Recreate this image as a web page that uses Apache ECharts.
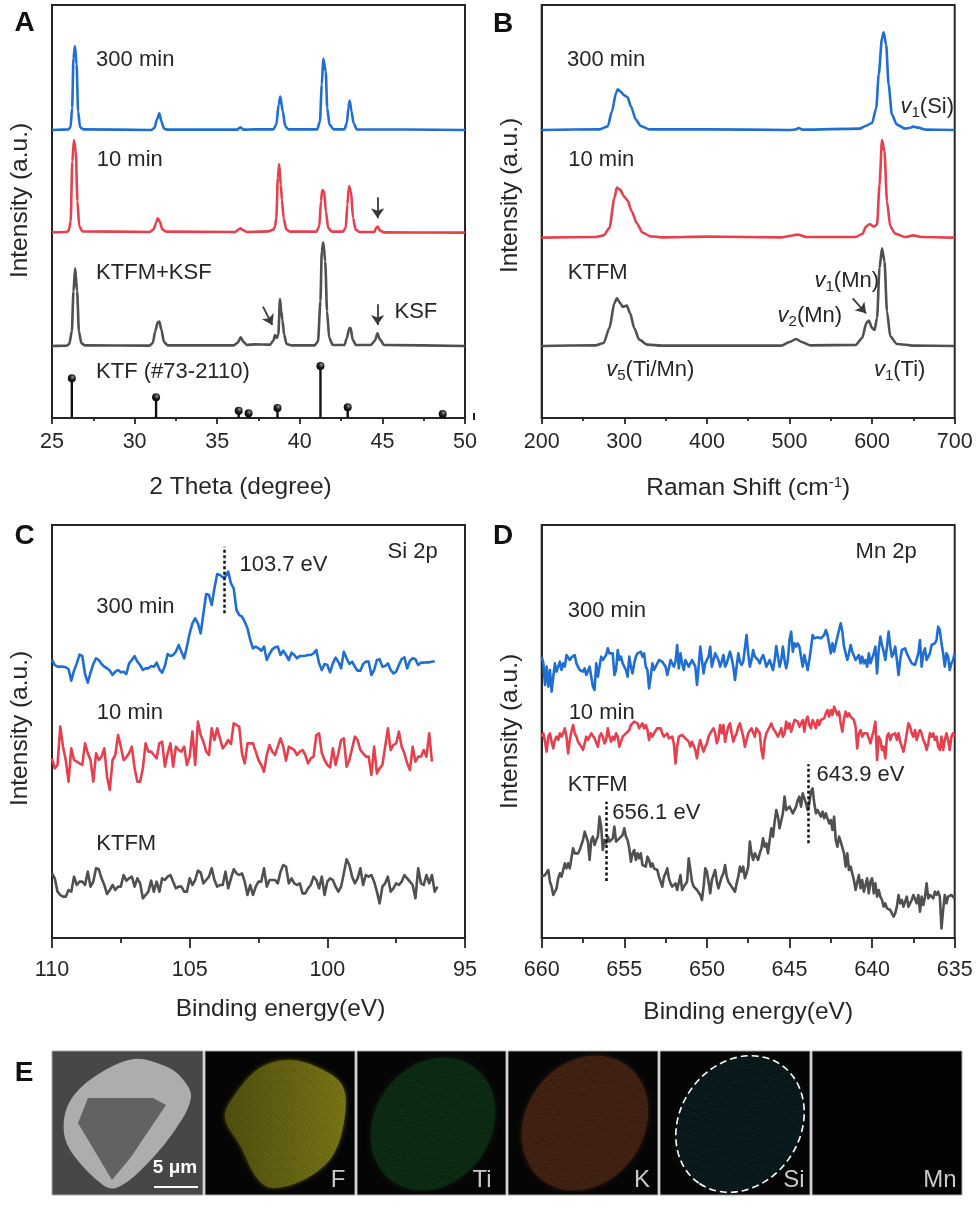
<!DOCTYPE html>
<html><head><meta charset="utf-8">
<style>html,body{margin:0;padding:0;background:#fff}#c{width:979px;height:1208px;filter:blur(0.4px)}</style>
<script src="https://cdn.jsdelivr.net/npm/echarts@6/dist/echarts.min.js"></script>
</head><body><div id="c"></div>
<script>
const xrd300 = [[25,864],[26,866],[26.12,872],[26.22,930],[26.3,1080],[26.39,1116],[26.49,1060],[26.58,920],[26.7,872],[26.9,866],[31,864],[31.2,870],[31.35,895],[31.5,914],[31.62,890],[31.78,868],[32,865],[36.2,865],[36.4,872],[36.6,865],[37.3,866],[38.4,866],[38.58,880],[38.72,940],[38.82,964],[38.97,920],[39.12,875],[39.3,866],[41.05,866],[41.22,890],[41.33,1000],[41.42,1078],[41.57,1040],[41.66,930],[41.8,880],[42.05,866],[42.7,866],[42.85,885],[42.94,930],[43.02,952],[43.13,920],[43.25,885],[43.45,866],[50,864]];
const xrd10 = [[25,557],[25.9,558],[26.02,563],[26.13,590],[26.23,770],[26.33,834],[26.44,800],[26.54,650],[26.65,575],[26.85,560],[30.9,558],[31.15,566],[31.3,585],[31.4,599],[31.52,590],[31.68,566],[31.9,559],[36.1,558],[36.3,566],[36.4,569],[36.55,564],[36.8,558],[38.1,560],[38.4,565],[38.5,575],[38.58,600],[38.67,720],[38.75,762],[38.85,700],[38.92,654],[39.02,600],[39.18,566],[39.4,559],[41,559],[41.18,575],[41.28,650],[41.36,684],[41.47,680],[41.58,620],[41.72,570],[41.95,559],[42.6,559],[42.78,570],[42.88,640],[42.98,696],[43.1,680],[43.22,600],[43.38,565],[43.6,558],[44.5,558],[44.65,572],[44.72,574],[44.85,562],[45.1,557],[50,556]];
const xrdKsf = [[25,216],[25.9,217],[26.05,222],[26.2,260],[26.3,380],[26.4,449],[26.52,380],[26.63,260],[26.78,224],[27,218],[30.9,217],[31.1,225],[31.25,260],[31.4,287],[31.5,289],[31.62,265],[31.78,228],[32,218],[36,218],[36.25,226],[36.42,242],[36.6,228],[36.8,219],[37.3,221],[38.2,220],[38.4,232],[38.5,249],[38.6,240],[38.7,250],[38.8,357],[38.88,320],[38.95,294],[39.05,250],[39.2,222],[39.5,218],[40.9,218],[41.1,230],[41.25,350],[41.33,500],[41.42,527],[41.54,470],[41.65,320],[41.78,240],[42,219],[42.7,219],[42.85,240],[43,270],[43.08,270],[43.2,235],[43.4,219],[44.3,219],[44.55,232],[44.7,254],[44.85,236],[45.1,219],[50,216]];
const ktfSticks = [[26.2,119],[31.3,62],[36.3,22],[36.9,14],[38.65,30],[41.25,156],[42.9,32],[48.65,12]];

const raman300 = [[200,864],[270,866],[280,875],[285,920],[290,975],[292,986],[296,978],[300,968],[304,962],[308,935],[314,895],[320,876],[330,866],[400,866],[500,864],[508,866],[511,870],[516,865],[585,868],[592,876],[600,885],[605,930],[608,1030],[612,1140],[614,1157],[617,1120],[620,1000],[624,910],[630,880],[640,868],[645,870],[650,874],[656,871],[665,865],[700,864]];
const raman10 = [[200,541],[265,543],[275,548],[282,570],[288,660],[291,691],[295,685],[300,664],[304,652],[309,620],[315,585],[322,556],[332,545],[345,542],[400,544],[490,542],[500,546],[510,550],[520,543],[580,543],[588,552],[593,575],[597,582],[602,574],[606,580],[609,700],[612,834],[615,800],[618,650],[622,575],[628,553],[640,543],[650,548],[660,543],[700,541]];
const ramanKtfm = [[200,216],[265,218],[275,225],[282,270],[288,345],[291,359],[295,345],[298,334],[303,337],[307,315],[312,270],[318,235],[328,220],[345,217],[490,217],[500,228],[508,237],[515,228],[525,218],[580,219],[588,240],[593,285],[596,292],[600,270],[603,264],[606,300],[609,450],[612,509],[615,470],[618,320],[622,245],[630,222],[650,217],[700,216]];

// Si 2p: one reading every 0.1 eV, starting at 110 eV
const si300 = [834,819,814,814,814,812,807,772,802,824,850,846,792,766,796,822,839,834,822,814,809,802,789,799,804,797,799,792,824,834,846,829,819,804,809,809,816,814,826,806,796,816,852,846,849,859,879,859,839,874,914,944,959,944,914,974,1032,1029,999,1049,1092,1089,1082,1084,1099,1064,1049,984,969,964,949,929,894,869,874,869,862,874,834,852,866,872,874,849,862,849,834,856,849,839,846,846,847,849,849,854,864,824,804,822,819,797,824,841,829,809,859,839,822,829,814,802,802,822,829,829,789,804,834,836,814,816,824,804,794,799,819,837,842,809,832,839,836,819,826,826,827,827,829,830];
const si10 = [539,509,519,634,574,534,469,569,534,529,524,519,584,554,534,469,554,534,544,569,484,444,534,549,609,574,534,542,554,574,509,469,469,509,584,559,559,549,539,584,589,514,554,584,514,574,564,559,574,519,544,619,519,649,609,589,559,549,629,594,629,599,569,579,594,582,644,639,634,554,524,584,584,584,559,534,519,499,549,579,559,549,574,599,574,532,574,569,564,549,559,564,549,524,539,544,609,614,554,534,519,512,569,519,554,594,599,514,534,569,604,594,564,554,544,544,489,574,494,509,519,574,629,564,579,584,619,574,554,524,504,574,529,544,544,564,544,614,529];
const siKtfm = [194,179,139,129,124,124,144,139,184,159,169,169,159,199,154,169,209,206,179,159,132,144,159,144,154,154,189,172,179,184,154,179,164,119,129,139,172,139,169,139,179,174,184,189,169,149,154,154,139,139,179,159,174,202,196,164,174,184,209,174,154,159,159,199,149,179,206,194,189,194,169,129,159,129,154,169,169,209,154,174,174,174,164,199,219,214,164,179,164,159,164,134,134,149,159,184,174,149,184,129,169,179,174,154,139,154,194,236,219,184,164,179,209,159,189,184,189,169,139,104,154,164,184,139,149,164,159,169,189,179,169,159,119,209,164,159,189,164,189,139,154];

// Mn 2p: one reading every 0.1 eV, starting at 660 eV
const mn300 = [844,824,759,814,754,804,739,784,824,799,799,829,804,824,814,849,844,834,842,836,849,824,814,804,804,799,809,789,784,814,814,754,744,824,784,784,844,834,839,849,869,854,859,854,789,804,864,834,844,824,824,804,784,844,814,794,824,844,854,854,859,844,854,814,804,749,784,824,804,814,824,834,839,829,834,814,789,809,834,824,814,829,879,809,854,824,804,834,824,814,824,834,824,814,759,814,874,834,794,824,824,844,874,814,834,854,844,834,814,829,849,814,824,829,859,839,814,774,814,854,829,819,829,834,909,854,814,834,864,844,844,834,824,839,849,834,814,824,834,829,804,834,876,844,814,834,874,834,809,834,894,919,859,884,874,884,874,844,814,849,854,804,834,869,909,899,904,902,904,899,904,909,924,909,904,854,884,859,864,904,924,944,919,874,854,834,854,879,859,854,834,829,849,824,844,824,834,814,854,824,824,854,874,794,864,904,879,859,834,874,919,874,844,854,874,834,789,834,864,859,869,854,859,834,824,824,819,824,854,894,814,854,869,834,844,854,879,874,884,894,934,924,884,854,814,854,844,804,824,834,854];
const mn10 = [604,614,589,559,604,614,589,569,594,604,594,614,604,614,629,604,554,594,619,639,614,604,589,594,574,564,584,604,594,599,614,619,599,594,574,604,614,604,584,594,629,604,589,604,594,614,604,574,589,604,609,614,619,624,639,634,649,654,644,629,634,644,629,639,624,594,614,604,614,619,629,624,629,614,604,604,614,599,604,604,584,524,574,604,604,609,604,599,604,589,574,589,584,564,539,574,594,574,559,574,584,604,614,619,629,614,584,599,639,614,639,589,614,634,644,614,589,604,614,634,644,624,604,574,594,614,609,629,634,604,629,634,614,564,539,594,614,624,629,644,629,634,614,604,614,629,604,614,649,629,644,619,614,654,659,649,634,644,654,619,654,664,639,629,654,644,629,654,639,654,654,659,674,684,664,684,669,694,689,669,679,644,619,659,679,664,674,664,659,654,634,569,614,624,604,614,609,614,614,584,604,624,649,534,604,594,564,574,539,604,614,594,609,604,614,594,614,589,574,559,584,614,644,634,614,604,624,594,614,624,614,594,584,564,584,614,604,614,594,604,574,564,604,564,594,614,594,564,604,614,604];
const mnKtfm = [184,184,189,194,204,169,154,129,124,149,179,194,184,189,224,209,224,209,214,269,254,249,254,264,279,294,319,304,289,234,294,304,279,294,304,364,334,264,294,284,304,289,294,299,334,289,289,299,304,309,329,304,294,269,229,254,264,234,254,239,254,219,224,214,244,234,214,224,209,204,204,184,169,154,184,194,209,179,164,154,154,164,144,149,189,144,154,149,169,239,239,169,154,159,144,139,129,114,154,209,199,169,134,174,189,204,169,149,154,184,194,219,184,169,164,154,149,139,164,184,214,199,214,179,194,214,289,254,234,254,244,234,254,269,299,274,284,254,294,329,304,349,384,364,329,324,374,424,384,384,394,384,374,374,394,414,424,394,434,419,404,384,404,439,449,404,374,384,379,364,379,359,374,379,344,354,324,364,294,274,304,289,294,254,214,254,204,214,194,174,144,144,189,149,174,139,134,179,134,169,179,134,164,124,144,124,114,94,104,89,89,84,74,64,74,94,129,104,114,94,94,124,94,89,114,129,124,104,129,79,124,99,124,164,119,129,134,119,139,129,139,124,29,84,129,104,124,119,129,124,119];

const xrdNotes = [[27.64,1075,'300 min'],[27.68,775,'10 min'],[27.64,435,'KTFM+KSF'],[45.7,319,'KSF'],[27.64,138,'KTF (#73-2110)']];
const ramanNotes = [[230,1075,'300 min'],[231.5,775,'10 min'],[231,435,'KTFM'],[633.8,933,'{i|v}{s|1}(Si)'],[529.7,410,'{i|v}{s|1}(Mn)'],[485,307,'{i|v}{s|2}(Mn)'],[277.5,145,'{i|v}{s|5}(Ti/Mn)'],[601.6,145,'{i|v}{s|1}(Ti)']];
const siNotes = [[108.41,992,'300 min'],[108.39,674,'10 min'],[108.41,283,'KTFM'],[103.21,1120,'103.7 eV'],[97.83,1157,'Si 2p']];
const mnNotes = [[658.45,982,'300 min'],[658.4,674,'10 min'],[658.45,460,'KTFM'],[655.76,376,'656.1 eV'],[643.4,490,'643.9 eV'],[641.03,1157,'Mn 2p']];

const xrdArrows = [[[44.71,662],[44.71,599]],[[44.71,341],[44.71,279]],[[37.77,334],[38.34,279]]];
const ramanArrows = [[[576.5,359],[592.7,314]]];
const siMarkers = [[[103.73,974],[103.73,1174]]];
const mnMarkers = [[[656.09,171],[656.09,409]],[[643.88,284],[643.88,521]]];

const BLUE='#1f6fd2', RED='#e6404e', GRAY='#505050', INK='#262626', FONT='"Liberation Sans",Arial,sans-serif';
const onGrid = (vals, start, step) => vals.map((v,i) => [+(start + step*i).toFixed(1), v]);
const grids = [
 {left:52,top:5,width:413,height:413},{left:541.7,top:5,width:413,height:413},
 {left:52,top:525,width:413,height:413},{left:541.7,top:525,width:413,height:413}
].map(g => ({...g, show:true, borderColor:INK, borderWidth:2, backgroundColor:'transparent'}));

function xAxis(i,min,max,name,gap,pad,inverse){
  const big=i>1;
  return {type:'value',gridIndex:i,min,max,interval:i==1?100:5,inverse:!!inverse,name,nameLocation:'middle',nameGap:gap,
    nameTextStyle:{fontFamily:FONT,fontSize:24.5,color:INK,padding:pad,rich:{n:{fontFamily:FONT,fontSize:24.5,color:INK},sup:{fontFamily:FONT,fontSize:15,color:INK,padding:[0,0,11,0]}}},
    splitLine:{show:false},minorSplitLine:{show:false},
    axisLine:{show:true,onZero:false,lineStyle:{color:INK,width:2}},
    axisTick:{show:true,length:big?10:6,inside:false,lineStyle:{color:INK,width:1.8}},
    minorTick:{show:true,splitNumber:2,length:big?5:3,lineStyle:{color:INK,width:1.8}},
    axisLabel:{fontFamily:FONT,fontSize:21.5,color:INK,margin:big?21:13,showMinLabel:true,showMaxLabel:true,hideOverlap:false}};
}
function yAxis(i,pad){
  return {type:'value',gridIndex:i,min:0,max:1239,name:'Intensity (a.u.)',nameLocation:'middle',nameGap:19,
    nameTextStyle:{fontFamily:FONT,fontSize:24.5,color:INK,padding:pad},
    splitLine:{show:false},axisTick:{show:false},axisLabel:{show:false},
    axisLine:{show:true,onZero:false,lineStyle:{color:INK,width:2}}};
}
const line=(i,data,color,smooth)=>({type:'line',xAxisIndex:i,yAxisIndex:i,data,showSymbol:false,symbol:'none',smooth:smooth?0.25:false,smoothMonotone:'x',lineStyle:{color,width:2.6,join:'round'},itemStyle:{color},silent:true,z:3});
const notes=(i,arr)=>({type:'scatter',xAxisIndex:i,yAxisIndex:i,symbolSize:1,itemStyle:{color:'rgba(0,0,0,0)',opacity:1},silent:true,z:6,
  data:arr.map(a=>({value:[a[0],a[1]],label:{show:true,position:'right',distance:0,opacity:1,formatter:a[2],fontFamily:FONT,fontSize:22,color:INK,
   rich:{i:{fontFamily:FONT,fontStyle:'italic',fontSize:22,color:INK},s:{fontFamily:FONT,fontSize:15,color:INK,padding:[12,0,0,0]}}}}))});
const arrows=(i,arr)=>({type:'lines',coordinateSystem:'cartesian2d',xAxisIndex:i,yAxisIndex:i,silent:true,z:6,symbol:['none','arrow'],symbolSize:10,polyline:false,
  lineStyle:{color:'#3a3a3a',width:1.8,opacity:1,curveness:0},data:arr.map(c=>({coords:c}))});
const dashes=(i,arr)=>({type:'lines',coordinateSystem:'cartesian2d',xAxisIndex:i,yAxisIndex:i,silent:true,z:6,symbol:'none',
  lineStyle:{color:'#111',width:2.5,type:[3,2.5],opacity:1,curveness:0},data:arr.map(c=>({coords:c}))});

const series=[
  line(0,xrd300,BLUE,1),line(0,xrd10,RED,1),line(0,xrdKsf,GRAY,1),
  {type:'bar',xAxisIndex:0,yAxisIndex:0,data:ktfSticks,barWidth:2.4,itemStyle:{color:'#111'},silent:true,z:3},
  {type:'scatter',xAxisIndex:0,yAxisIndex:0,data:ktfSticks,symbolSize:8,silent:true,z:4,
    itemStyle:{opacity:1,color:{type:'radial',x:0.6,y:0.35,r:0.7,colorStops:[{offset:0,color:'#9a9a9a'},{offset:0.45,color:'#222'},{offset:1,color:'#000'}]}}},
  notes(0,xrdNotes),arrows(0,xrdArrows),
  line(1,raman300,BLUE,1),line(1,raman10,RED,1),line(1,ramanKtfm,GRAY,1),notes(1,ramanNotes),arrows(1,ramanArrows),
  line(2,onGrid(si300,110,-0.1),BLUE),line(2,onGrid(si10,110,-0.1),RED),line(2,onGrid(siKtfm,110,-0.1),GRAY),notes(2,siNotes),dashes(2,siMarkers),
  line(3,onGrid(mn300,660,-0.1),BLUE),line(3,onGrid(mn10,660,-0.1),RED),line(3,onGrid(mnKtfm,660,-0.1),GRAY),notes(3,mnNotes),dashes(3,mnMarkers)
];

// Panel E: element-map strip
const speckle=(()=>{const c=document.createElement('canvas');c.width=c.height=11;const g=c.getContext('2d');
  [[1,1,.12],[4,0,.06],[7,2,.1],[2,4,.08],[9,5,.12],[5,6,.07],[0,8,.1],[3,9,.1],[8,9,.07]].forEach(d=>{g.fillStyle='rgba(190,200,215,'+d[2]+')';g.fillRect(d[0],d[1],1,1);});
  [[3,2],[9,2],[0,4],[6,4],[4,8],[7,7],[1,6]].forEach(d=>{g.fillStyle='rgba(0,0,0,.12)';g.fillRect(d[0],d[1],1,1);});
  return c;})();
const txt=(x,y,t,o)=>({type:'text',x,y,style:{text:t,fontFamily:FONT,fontSize:24,fill:'#c8c8c8',textAlign:'center',textVerticalAlign:'middle',...o},z:10});
const tile=(x,w,fill)=>({type:'rect',shape:{x,y:1051,width:w,height:144},style:{fill,stroke:'#a8a8a8',lineWidth:1},z:7});
const poly=(points,fill,extra)=>({type:'polygon',shape:{points,smooth:0.35},style:{fill,...extra},z:8});
const oval=(cx,cy,rx,ry,turn,style,z)=>({type:'ellipse',x:cx,y:cy,rotation:turn,shape:{cx:0,cy:0,rx,ry},style,z});
const speckled=(cx,cy,rx,ry,turn,fill)=>[oval(cx,cy,rx,ry,turn,{fill,shadowBlur:4,shadowColor:fill},8),oval(cx,cy,rx,ry,turn,{fill:{image:speckle,repeat:'repeat'}},9)];
const outlineF=[[288,1060],[317,1067],[342,1085],[345,1115],[333,1155],[307,1178],[273,1188],[257,1178],[240,1145],[225,1117],[237,1092],[260,1068]];
const stripe=[
  tile(52,151,'#474747'),tile(205,150,'#050505'),tile(357,149,'#050505'),tile(508,150,'#050505'),tile(660,150,'#050505'),tile(812,150,'#030303'),
  poly([[134,1059],[165,1066],[181,1077],[191,1097],[175,1130],[141,1170],[116,1188],[103,1185],[75,1157],[64,1133],[69,1103],[94,1077]],'#adadad'),
  {type:'polygon',shape:{points:[[88,1098],[153,1098],[166,1105],[131,1157],[112,1180],[78,1123]]},style:{fill:'#626262'},z:9},
  poly(outlineF,{type:'linear',x:0,y:0,x2:1,y2:0,colorStops:[{offset:0,color:'#4e4d0c'},{offset:1,color:'#757314'}]},{shadowBlur:4,shadowColor:'#55540e'}),
  {...poly(outlineF,{image:speckle,repeat:'repeat'}),z:9},
  ...speckled(433,1124,70,58,0.96,'#0b2810'),
  ...speckled(585,1123,71,59,0.96,'#3f1f0f'),
  ...speckled(740,1124,72,60,0.96,'#07171a'),
  oval(740,1124,72,60,0.96,{fill:'none',stroke:'#ffffff',lineWidth:1.6,lineDash:[7,4]},9),
  txt(338,1180,'F'),txt(482,1180,'Ti'),txt(642,1180,'K'),txt(794,1180,'Si'),txt(940,1180,'Mn'),
  txt(175,1168,'5 μm',{fill:'#fff',fontSize:19,fontWeight:'bold'}),
  {type:'rect',shape:{x:154,y:1186,width:44,height:2},style:{fill:'#fff'},z:10},
  {type:'rect',shape:{x:473,y:413,width:2,height:7},style:{fill:'#222'},z:10}
];
const letters=[['A',24.5,23],['B',503,24],['C',24.5,536],['D',503,536],['E',24,1073]].map(l=>txt(l[1],l[2],l[0],{fontSize:28,fontWeight:'bold',fill:'#111'}));

echarts.init(document.getElementById('c'),null,{renderer:'canvas'}).setOption({
  animation:false,backgroundColor:'#fff',grid:grids,
  xAxis:[xAxis(0,25,50,'2 Theta (degree)',57,[0,36,0,0]),xAxis(1,200,700,'Raman Shift (cm{sup|-1}{n|)}',57,0),xAxis(2,95,110,'Binding energy(eV)',59,[0,0,0,44],true),xAxis(3,635,660,'Binding energy(eV)',62,0,true)],
  yAxis:[yAxis(0,[0,0,0,22]),yAxis(1,[0,0,0,32]),yAxis(2,[0,0,0,6]),yAxis(3,[0,0,0,0])],
  series,graphic:[...stripe,...letters]
});
</script></body></html>
